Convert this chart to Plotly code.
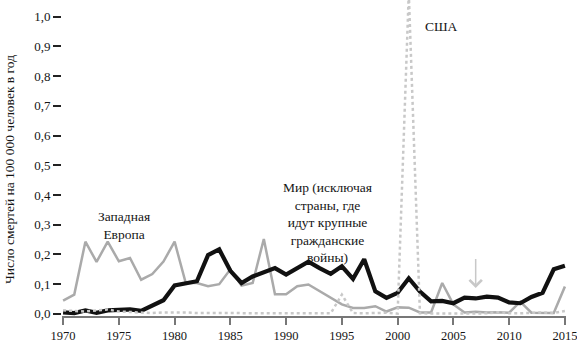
import plotly.graph_objects as go

years = list(range(1970, 2016))

world = [0.005, 0.003, 0.012, 0.004, 0.012, 0.014, 0.015, 0.010, 0.030, 0.046,
         0.096, 0.104, 0.110, 0.198, 0.217, 0.145, 0.104, 0.126, 0.140, 0.154,
         0.132, 0.154, 0.176, 0.154, 0.135, 0.160, 0.118, 0.184, 0.076, 0.054,
         0.071, 0.120, 0.075, 0.042, 0.044, 0.036, 0.055, 0.052, 0.058, 0.055,
         0.039, 0.036, 0.057, 0.071, 0.150, 0.162]

europe = [0.045, 0.065, 0.243, 0.175, 0.243, 0.177, 0.188, 0.115, 0.134, 0.176,
          0.243, 0.104, 0.104, 0.093, 0.100, 0.150, 0.095, 0.104, 0.252, 0.066,
          0.066, 0.093, 0.099, 0.077, 0.054, 0.032, 0.020, 0.020, 0.026, 0.008,
          0.022, 0.021, 0.005, 0.005, 0.104, 0.032, 0.005, 0.007, 0.005, 0.006,
          0.004, 0.041, 0.004, 0.004, 0.003, 0.092]

usa = [0.012, 0.010, 0.008, 0.012, 0.015, 0.008, 0.006, 0.004, 0.003, 0.005,
       0.006, 0.005, 0.003, 0.004, 0.003, 0.003, 0.002, 0.002, 0.002, 0.002,
       0.002, 0.002, 0.002, 0.004, 0.002, 0.065, 0.003, 0.002, 0.003, 0.004,
       0.001, 1.080, 0.002, 0.001, 0.001, 0.001, 0.001, 0.002, 0.002, 0.006,
       0.002, 0.002, 0.004, 0.005, 0.003, 0.010]

x_ticks = [1970, 1975, 1980, 1985, 1990, 1995, 2000, 2005, 2010, 2015]
y_ticks = [0.0, 0.1, 0.2, 0.3, 0.4, 0.5, 0.6, 0.7, 0.8, 0.9, 1.0]
y_ticktext = ["0,0", "0,1", "0,2", "0,3", "0,4", "0,5", "0,6", "0,7", "0,8", "0,9", "1,0"]

FONT = "Liberation Serif"
TXT = "#151515"

fig = go.Figure()
fig.add_trace(go.Scatter(x=years, y=europe, mode="lines",
                         line=dict(color="#aaaaaa", width=2.5), name="Западная Европа"))
fig.add_trace(go.Scatter(x=years, y=world, mode="lines",
                         line=dict(color="#111111", width=4.2), name="Мир"))
fig.add_trace(go.Scatter(x=years, y=usa, mode="lines",
                         line=dict(color="#c8c8c8", width=2.5, dash="dot"), name="США"))

L, R, T, B = 55, 10, 0, 23
W, H = 577, 343
pw = W - L - R

fig.update_layout(
    width=W, height=H,
    margin=dict(l=L, r=R, t=T, b=B),
    paper_bgcolor="white", plot_bgcolor="white",
    showlegend=False,
    font=dict(family=FONT, size=13, color=TXT),
    xaxis=dict(range=[1969.9, 2015.1], domain=[7 / pw, 1],
               tickvals=x_ticks, ticks="outside", ticklen=7, tickwidth=1.5,
               tickcolor="#777777", showline=True, linecolor="#777777", linewidth=2,
               showgrid=False, zeroline=False, ticklabeloverflow="allow",
               tickfont=dict(size=12.5, color=TXT)),
    yaxis=dict(range=[-0.007, 1.056], anchor="free", position=6 / pw,
               tickvals=y_ticks, ticktext=y_ticktext, ticks="outside", ticklen=8,
               tickwidth=1.5, tickcolor="#222222", showline=False,
               showgrid=False, zeroline=False, tickfont=dict(size=13, color=TXT)),
)

fig.add_annotation(text="Число смертей на 100 000 человек в год",
                   xref="paper", yref="paper", x=(10 - L) / pw, y=1 - 172 / 320,
                   textangle=-90, showarrow=False, font=dict(size=13.5, color=TXT),
                   xanchor="center", yanchor="middle")

fig.add_annotation(text="Западная<br>Европа", x=1975.5, y=0.296, showarrow=False,
                   font=dict(size=13.5, color=TXT), align="center")
fig.add_annotation(text="Мир (исключая<br>страны, где<br>идут крупные<br>гражданские<br>войны)",
                   x=1993.7, y=0.306, showarrow=False,
                   font=dict(size=13.5, color=TXT), align="center")
fig.add_annotation(text="США", x=2003.9, y=0.967, showarrow=False,
                   font=dict(size=13.5, color=TXT))

fig.add_annotation(x=2007, y=0.087, ax=2007, ay=0.19, axref="x", ayref="y",
                   xref="x", yref="y", text="", showarrow=True, arrowhead=4,
                   arrowsize=1.6, arrowwidth=1.5, arrowcolor="#c8c8c8")

fig.write_html("out.html")
